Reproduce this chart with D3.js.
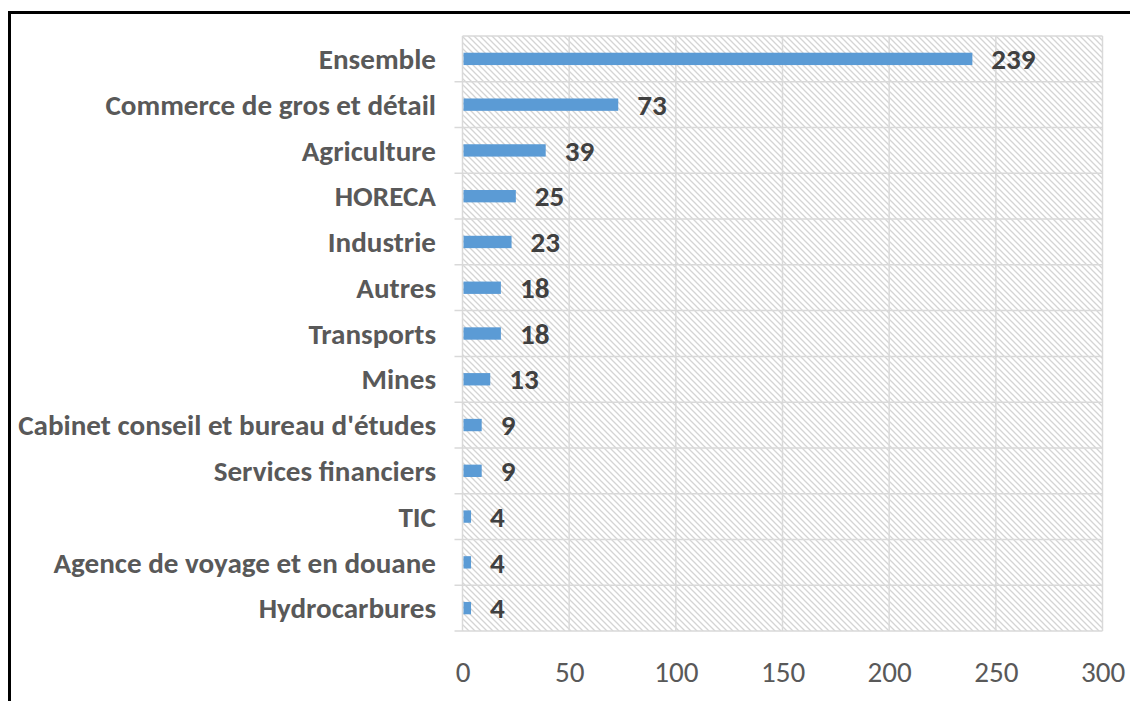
<!DOCTYPE html>
<html>
<head>
<meta charset="utf-8">
<script src="https://cdn.jsdelivr.net/npm/d3@7"></script>
<style>
  html, body { margin: 0; padding: 0; background: #fff; }
  svg { display: block; }
</style>
</head>
<body>
<svg id="chart" width="1131" height="701"></svg>
<script>
const categories = ["Ensemble","Commerce de gros et détail","Agriculture","HORECA","Industrie","Autres","Transports","Mines","Cabinet conseil et bureau d'études","Services financiers","TIC","Agence de voyage et en douane","Hydrocarbures"];
const values = [239,73,39,25,23,18,18,13,9,9,4,4,4];
const xTicks = [0,50,100,150,200,250,300];

(function(){
const FONT = "Carlito, Calibri, Lato, 'Liberation Sans', sans-serif";
const svg = d3.select("#chart");

// Frame
svg.append("rect").attr("x",8).attr("y",11).attr("width",1122).attr("height",3).attr("fill","#000");
svg.append("rect").attr("x",8).attr("y",11).attr("width",3).attr("height",690).attr("fill","#000");

const pLeft = 462.5, pRight = 1102.5, pTop = 36, pBottom = 631;
const x = d3.scaleLinear().domain([0,300]).range([pLeft,pRight]);
const y = d3.scaleBand().domain(categories).range([pTop,pBottom]).padding(0);

// hatch pattern
const defs = svg.append("defs");
const pat = defs.append("pattern").attr("id","hatch").attr("patternUnits","userSpaceOnUse")
  .attr("width",6).attr("height",6);
pat.append("rect").attr("width",6).attr("height",6).attr("fill","#fff");
pat.append("path").attr("d","M-1,-1 L7,7 M-1,5 L1,7 M5,-1 L7,1")
  .attr("stroke","#d4d4d4").attr("stroke-width",1.3);

svg.append("rect").attr("x",pLeft).attr("y",pTop).attr("width",pRight-pLeft).attr("height",pBottom-pTop)
  .attr("fill","url(#hatch)");

const gridColor = "#d9d9d9";
svg.append("g").selectAll("line").data(xTicks).join("line")
  .attr("x1",d=>x(d)).attr("x2",d=>x(d)).attr("y1",pTop).attr("y2",pBottom)
  .attr("stroke",gridColor).attr("stroke-width",1.5);
const hl = categories.map(c=>y(c)).concat([pBottom]);
svg.append("g").selectAll("line").data(hl).join("line")
  .attr("x1",(d,i)=> i===0 ? pLeft : pLeft-8).attr("x2",pRight).attr("y1",d=>d).attr("y2",d=>d)
  .attr("stroke",gridColor).attr("stroke-width",1.5);

// bars
const bh = y.bandwidth()*0.27;
svg.append("g").selectAll("rect").data(values).join("rect")
  .attr("x",x(0)+1).attr("y",(d,i)=>y(categories[i])+y.bandwidth()/2-bh/2)
  .attr("width",d=>x(d)-x(0)-1).attr("height",bh).attr("fill","#5b9bd5");

// fit font size to longest label width (418px)
const probe = svg.append("text").attr("font-family",FONT).attr("font-weight","bold").attr("font-size",20)
  .text("Cabinet conseil et bureau d'études");
const w20 = probe.node().getComputedTextLength();
probe.remove();
const fs = 20*418/w20;

svg.append("g").selectAll("text").data(categories).join("text")
  .attr("x",436).attr("y",d=>y(d)+y.bandwidth()/2).attr("dy","0.35em")
  .attr("text-anchor","end").attr("font-family",FONT).attr("font-weight","bold")
  .attr("font-size",fs).attr("fill","#595959").text(d=>d);

svg.append("g").selectAll("text").data(values).join("text")
  .attr("x",d=>x(d)+19).attr("y",(d,i)=>y(categories[i])+y.bandwidth()/2).attr("dy","0.35em")
  .attr("font-family",FONT).attr("font-weight","bold")
  .attr("font-size",fs).attr("fill","#404040").text(d=>d);

const xa = svg.append("g").attr("transform",`translate(0,${pBottom})`)
  .call(d3.axisBottom(x).tickValues(xTicks).tickSize(0).tickPadding(0));
xa.select(".domain").remove();
xa.selectAll("text").attr("y",41).attr("dy","0.35em").attr("font-family",FONT)
  .attr("font-size",fs).attr("fill","#595959");
})();
</script>
</body>
</html>
